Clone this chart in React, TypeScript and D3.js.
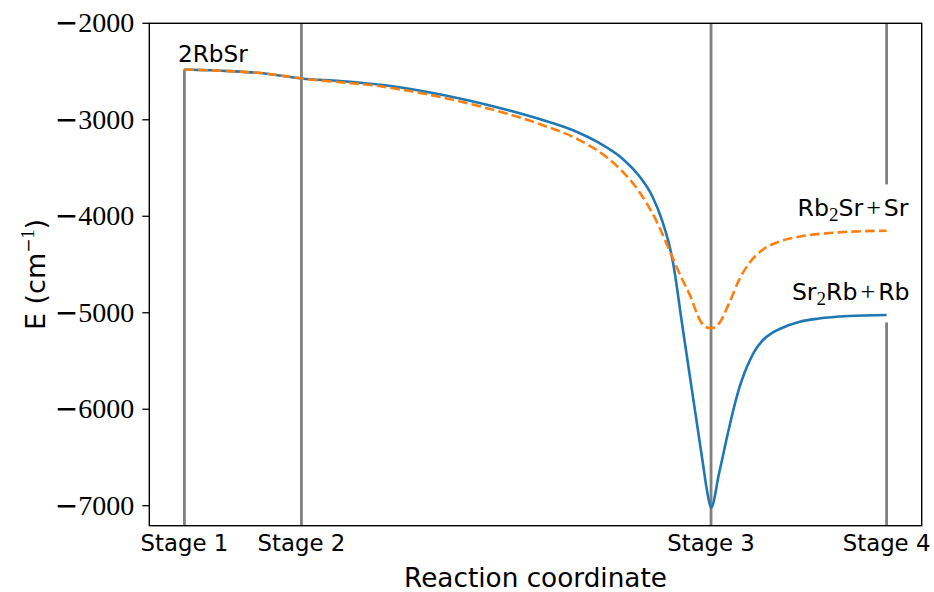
import React from "react";
import * as d3 from "d3";

const stageLabels = ["Stage 1", "Stage 2", "Stage 3", "Stage 4"];
const stageX = [0, 1, 4.5, 6];
const yTicks = [-7000, -6000, -5000, -4000, -3000, -2000];

const blueX = [0, 0.391, 0.688, 1.0, 1.328, 1.695, 2.053, 2.411, 2.777, 3.034, 3.315, 3.528, 3.741, 3.886, 3.997, 4.083, 4.143, 4.171, 4.256, 4.341, 4.426, 4.469, 4.5, 4.569, 4.654, 4.697, 4.739, 4.782, 4.825, 4.867, 4.935, 5.021, 5.106, 5.251, 5.422, 5.678, 6.0];
const blueY = [-2479, -2496, -2520, -2572, -2598, -2640, -2707, -2795, -2904, -2992, -3106, -3230, -3401, -3583, -3790, -4049, -4298, -4453, -5145, -5835, -6526, -6868, -7022, -6661, -6195, -5977, -5790, -5635, -5511, -5407, -5293, -5210, -5158, -5096, -5060, -5034, -5023];

const orangeX = [0, 0.391, 0.688, 1.0, 1.697, 2.409, 3.034, 3.375, 3.603, 3.744, 3.886, 4.029, 4.171, 4.256, 4.313, 4.413, 4.453, 4.498, 4.569, 4.654, 4.739, 4.825, 4.938, 5.08, 5.251, 5.478, 5.678, 6.0];
const orangeY = [-2479, -2496, -2520, -2572, -2657, -2826, -3044, -3210, -3383, -3538, -3745, -4039, -4428, -4661, -4799, -5093, -5147, -5161, -5110, -4902, -4661, -4488, -4350, -4264, -4212, -4177, -4160, -4150];

const xDomain = [-0.3, 6.3];
const yDomain = [-7207, -2000];

// vertical stage marker segments: stage index, lower value, upper value
const segStage = [0, 1, 2, 3, 3];
const segLow = [yDomain[0], yDomain[0], yDomain[0], yDomain[0], -3670];
const segHigh = [-2479, yDomain[1], yDomain[1], -5100, yDomain[1]];

const W = 934, H = 592;
const L = 149.3, R = 921.7, T = 23.3, B = 525.7;
const SANS = "'DejaVu Sans', sans-serif";
const SERIF = "'Liberation Serif', serif";

export default function App() {
  const x = d3.scaleLinear().domain(xDomain).range([L, R]);
  const y = d3.scaleLinear().domain(yDomain).range([B, T]);
  const line = d3.line<[number, number]>()
    .x(d => x(d[0]))
    .y(d => y(d[1]))
    .curve(d3.curveMonotoneX);
  const blue = line(blueX.map((v, i) => [v, blueY[i]] as [number, number])) || "";
  const orange = line(orangeX.map((v, i) => [v, orangeY[i]] as [number, number])) || "";

  return (
    <svg width={W} height={H} style={{ position: "absolute", left: 0, top: 0, background: "#fff" }}>
      <rect x={0} y={0} width={W} height={H} fill="#fff" />
      {segStage.map((s, i) => (
        <line key={"seg" + i} x1={x(stageX[s])} x2={x(stageX[s])} y1={y(segLow[i])} y2={y(segHigh[i])}
          stroke="#808080" strokeWidth={2.8} />
      ))}
      <path d={blue} fill="none" stroke="#1f77b4" strokeWidth={2.6} strokeLinejoin="round" />
      <path d={orange} fill="none" stroke="#ff7f0e" strokeWidth={2.6} strokeDasharray="9.6,4.2" />

      <rect x={L} y={T} width={R - L} height={B - T} fill="none" stroke="#000" strokeWidth={1.4} />

      {yTicks.map(t => (
        <g key={"yt" + t}>
          <line x1={L - 7} x2={L} y1={y(t)} y2={y(t)} stroke="#000" strokeWidth={1.3} />
          <text x={L - 15} y={y(t) + 9} textAnchor="end" fontFamily={SERIF} fontSize={28} fill="#000">
            <tspan fontFamily={SANS} fontSize={28}>{"\u2212"}</tspan>{String(Math.abs(t))}
          </text>
        </g>
      ))}
      {stageLabels.map((s, i) => (
        <text key={s} x={x(stageX[i])} y={551} textAnchor="middle" fontFamily={SANS} fontSize={22.8} fill="#000">{s}</text>
      ))}

      <text x={(L + R) / 2} y={587} textAnchor="middle" fontFamily={SANS} fontSize={26.3} fill="#000">Reaction coordinate</text>
      <text transform={`translate(45,${(T + B) / 2}) rotate(-90)`} textAnchor="middle" fontFamily={SANS} fontSize={27} fill="#000">
        E (cm<tspan fontFamily={SERIF} fontSize={18} dy={-11}><tspan fontFamily={SANS} fontSize={17}>{"\u2212"}</tspan>1</tspan><tspan dy={11}>)</tspan>
      </text>

      <text x={178} y={61.7} fontFamily={SANS} fontSize={23.2} fill="#000">2RbSr</text>
      <text x={908.5} y={216} textAnchor="end" fontFamily={SANS} fontSize={23.6} fill="#000">
        Rb<tspan fontFamily={SERIF} fontSize={19} dy={5}>2</tspan><tspan dy={-5}>Sr</tspan><tspan fontFamily={SERIF} fontSize={26} dx={3}>+</tspan><tspan dx={3}>Sr</tspan>
      </text>
      <text x={909.5} y={300} textAnchor="end" fontFamily={SANS} fontSize={23.6} fill="#000">
        Sr<tspan fontFamily={SERIF} fontSize={19} dy={5}>2</tspan><tspan dy={-5}>Rb</tspan><tspan fontFamily={SERIF} fontSize={26} dx={3}>+</tspan><tspan dx={3}>Rb</tspan>
      </text>
    </svg>
  );
}
